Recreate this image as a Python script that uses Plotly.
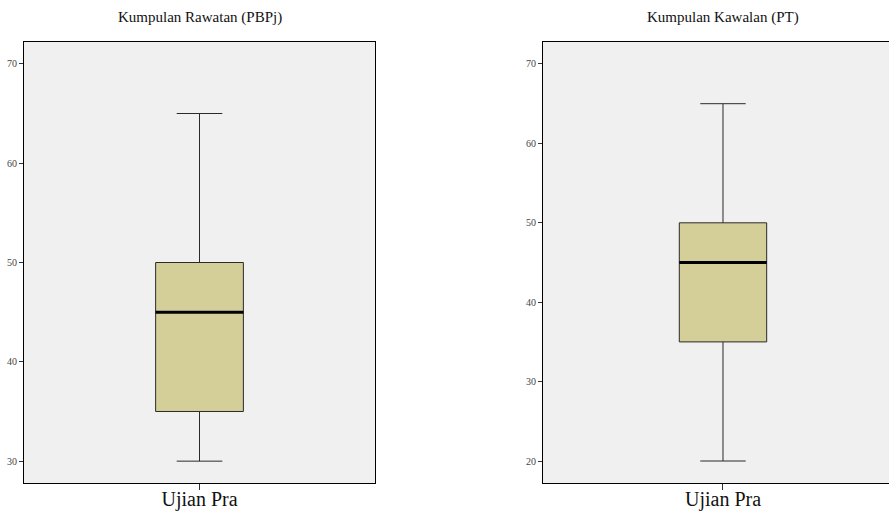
import plotly.graph_objects as go

panel_titles = ["Kumpulan Rawatan (PBPj)", "Kumpulan Kawalan (PT)"]
category = "Ujian Pra"
lower_whisker = [30, 20]
q1_vals = [35, 35]
median_vals = [45, 45]
q3_vals = [50, 50]
upper_whisker = [65, 65]
ytick_vals = [[30, 40, 50, 60, 70], [20, 30, 40, 50, 60, 70]]
y_ranges = [[27.8, 72.2], [17.23, 72.77]]

W, H = 889, 529
fill = "#D4CF99"
bg = "#F0F0F0"
box_w = 0.5

fig = go.Figure()
axes = [("x", "y"), ("x2", "y2")]
for i in range(2):
    xa, ya = axes[i]
    fig.add_trace(go.Box(
        x=[category], q1=[q1_vals[i]], median=[median_vals[i]], q3=[q3_vals[i]],
        lowerfence=[lower_whisker[i]], upperfence=[upper_whisker[i]],
        width=box_w, whiskerwidth=0.52, fillcolor=fill,
        line=dict(color="#2a2a2a", width=1), boxpoints=False,
        xaxis=xa, yaxis=ya, showlegend=False, hoverinfo="skip",
    ))
    fig.add_shape(type="line", xref=xa, yref=ya, x0=-box_w / 2, x1=box_w / 2,
                  y0=median_vals[i], y1=median_vals[i],
                  line=dict(color="black", width=3))

ydom = [1 - 483 / H, 1 - 42 / H]
common_x = dict(type="category", showline=True, linecolor="black", linewidth=1,
                ticks="outside", ticklen=6, tickcolor="#333", showgrid=False,
                zeroline=False, ticklabelstandoff=-8,
                tickfont=dict(family="Liberation Serif", size=20, color="#111"))
common_y = dict(showline=True, linecolor="black", linewidth=1, ticks="outside",
                ticklen=4, tickcolor="#333", showgrid=False, zeroline=False,
                tickfont=dict(family="Liberation Serif", size=10, color="#444"))

fig.update_layout(
    width=W, height=H, margin=dict(l=0, r=0, t=0, b=0),
    paper_bgcolor="white", plot_bgcolor=bg,
    xaxis=dict(domain=[24 / W, 375 / W], range=[-1, 1], mirror=True, anchor="y", **common_x),
    yaxis=dict(domain=ydom, range=y_ranges[0], tickvals=ytick_vals[0], mirror=True, anchor="x", **common_y),
    xaxis2=dict(domain=[543 / W, 1], range=[-1.03, 0.95], mirror=True, anchor="y2", **common_x),
    yaxis2=dict(domain=ydom, range=y_ranges[1], tickvals=ytick_vals[1], anchor="x2", **common_y),
)

title_x = [200 / W, 723 / W]
for i in range(2):
    fig.add_annotation(text=panel_titles[i], xref="paper", yref="paper",
                       x=title_x[i], y=1 - 18 / H, xanchor="center", yanchor="middle",
                       showarrow=False, font=dict(family="Liberation Serif", size=15, color="#111"))

fig.write_html("out.html", config={"displayModeBar": False}, post_script=(
    "document.body.style.margin='0';"
    "document.body.style.overflow='hidden';"
    "document.documentElement.style.overflow='hidden';"))
